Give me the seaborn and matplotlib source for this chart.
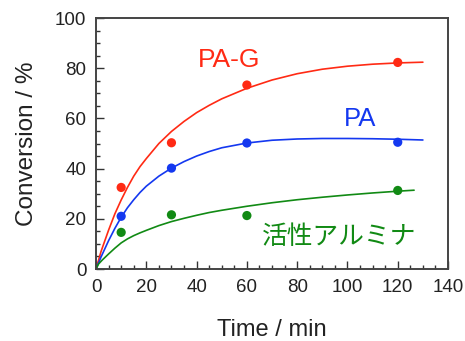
import matplotlib
matplotlib.use("Agg")
import matplotlib.pyplot as plt
from matplotlib.ticker import MultipleLocator
import seaborn as sns
import pandas as pd

# measured points
time_pts = [10, 30, 60, 120]
pag_pts = [32.5, 50.3, 73.3, 82.3]
pa_pts = [21.0, 40.2, 50.2, 50.5]
al_pts = [14.6, 21.6, 21.3, 31.3]

# fitted curves
curve_t = [0, 2, 5, 7.5, 10, 12.5, 15, 17.5, 20, 25, 30, 35, 40, 45, 50, 60, 70, 80, 90, 100, 110, 120, 130]
pag_curve = [0, 7.0, 15.5, 22.0, 27.5, 32.5, 37.0, 40.8, 44.0, 50.0, 54.8, 58.8, 62.3, 65.2, 67.8,
             72.0, 75.3, 77.8, 79.6, 80.8, 81.6, 82.1, 82.4]
pa_curve = [0, 4.8, 11.3, 16.2, 20.6, 24.4, 27.6, 30.5, 33.0, 37.0, 40.2, 42.8, 45.0, 46.8, 48.3,
            50.2, 51.3, 51.8, 52.0, 52.0, 51.9, 51.7, 51.4]
al_curve_t = [0, 1, 2.5, 5, 7.5, 10, 12.5, 15, 17.5, 20, 25, 30, 35, 40, 45, 50, 60, 70, 80, 90, 100, 110, 120, 126.5]
al_curve = [0, 2.0, 3.6, 6.0, 8.3, 10.4, 12.0, 13.3, 14.4, 15.4, 17.3, 18.9, 20.2, 21.4, 22.5, 23.4,
            25.0, 26.4, 27.6, 28.6, 29.5, 30.3, 31.0, 31.4]

labels = ["PA-G", "PA", "活性アルミナ"]
colors = {"PA-G": "#ff2a14", "PA": "#1438f0", "活性アルミナ": "#118a14"}

pts = pd.DataFrame({
    "t": time_pts * 3,
    "y": pag_pts + pa_pts + al_pts,
    "s": ["PA-G"] * 4 + ["PA"] * 4 + ["活性アルミナ"] * 4,
})
curves = pd.DataFrame({
    "t": curve_t + curve_t + al_curve_t,
    "y": pag_curve + pa_curve + al_curve,
    "s": ["PA-G"] * len(curve_t) + ["PA"] * len(curve_t) + ["活性アルミナ"] * len(al_curve_t),
})

sns.set_theme(style="ticks")
plt.rcParams["font.family"] = ["Liberation Sans", "Noto Sans CJK JP", "DejaVu Sans"]

fig = plt.figure(figsize=(4.65, 3.41), dpi=100)
ax = fig.add_axes([0.2065, 0.2111, 0.757, 0.7361])

sns.lineplot(data=curves, x="t", y="y", hue="s", palette=colors, hue_order=labels,
             linewidth=1.2, legend=False, ax=ax, sort=False, estimator=None)
sns.scatterplot(data=pts, x="t", y="y", hue="s", palette=colors, hue_order=labels,
                s=44, linewidth=0, legend=False, ax=ax, zorder=3)

ax.set_xlim(0, 140)
ax.set_ylim(0, 100)
ax.xaxis.set_major_locator(MultipleLocator(20))
ax.xaxis.set_minor_locator(MultipleLocator(5))
ax.yaxis.set_major_locator(MultipleLocator(20))
ax.yaxis.set_minor_locator(MultipleLocator(5))
ax.tick_params(which="both", direction="in", colors="#333333", labelcolor="#222222",
               top=False, right=False)
ax.tick_params(which="major", length=5.5, width=1.0, labelsize=13.5, pad=7)
ax.tick_params(which="minor", length=2.8, width=1.0)
for sp in ax.spines.values():
    sp.set_color("#444444")
    sp.set_linewidth(1.4)
    sp.set_visible(True)

ax.set_xlabel("Time / min", fontsize=17, color="#222222", labelpad=17)
ax.set_ylabel("Conversion / %", fontsize=17.5, color="#222222", labelpad=12)

ax.text(52.9, 83.3, "PA-G", color=colors["PA-G"], fontsize=19, ha="center", va="center")
ax.text(105, 59.8, "PA", color=colors["PA"], fontsize=18.5, ha="center", va="center")
ax.text(96.7, 12.9, "活性アルミナ", color=colors["活性アルミナ"], fontsize=18.5,
        ha="center", va="center", family=["Noto Sans CJK JP", "DejaVu Sans"])

fig.savefig("out.png", dpi=100)
